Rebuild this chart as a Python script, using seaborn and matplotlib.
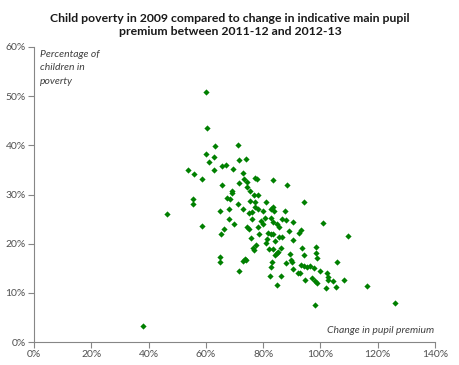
import matplotlib
matplotlib.use('Agg')
import matplotlib.pyplot as plt
import seaborn as sns
import pandas as pd
from matplotlib.ticker import PercentFormatter

# values (percent)
premium_change = [
    59.9, 60.5, 63.2, 71.3, 60.1, 62.7, 61.0, 71.4, 73.9, 53.8,
    55.8, 58.5, 62.7, 65.5, 67.0, 69.5, 72.9, 65.7, 71.5, 73.3,
    74.2, 77.2, 77.8, 74.5, 75.4, 69.3, 69.0, 55.5, 67.5, 68.6,
    76.8, 78.2, 83.3, 88.2, 46.3, 55.4, 58.5, 65.1, 68.1, 71.1,
    72.8, 75.5, 77.3, 75.2, 76.2, 76.2, 68.1, 69.8, 66.4, 65.4,
    74.2, 75.0, 78.3, 78.4, 75.8, 77.6, 76.4, 76.8, 65.1, 64.8,
    73.5, 73.0, 73.9, 71.7, 80.9, 77.1, 78.2, 94.2, 79.8, 82.8,
    83.5, 83.8, 87.6, 80.6, 82.9, 86.6, 87.9, 90.5, 100.9, 79.1,
    79.8, 83.5, 84.9, 85.6, 81.8, 82.7, 83.5, 89.0, 92.4, 93.2,
    109.7, 81.2, 85.4, 86.6, 84.0, 90.5, 80.9, 86.4, 83.5, 82.0,
    93.5, 98.6, 84.7, 85.2, 89.3, 98.6, 84.3, 94.4, 98.9, 89.6,
    90.1, 83.0, 87.9, 82.7, 93.2, 94.4, 95.2, 96.3, 97.6, 90.5,
    92.2, 93.0, 99.8, 102.3, 105.9, 82.3, 86.1, 85.0, 94.5, 96.9,
    98.0, 98.7, 102.5, 102.7, 104.4, 101.9, 105.4, 108.4, 116.1, 98.0,
    125.9, 38.1,
]
child_poverty = [
    50.9, 43.5, 39.8, 40.0, 38.3, 37.7, 36.6, 37.1, 37.2, 34.9,
    34.1, 33.2, 35.0, 35.7, 36.0, 35.2, 34.4, 32.0, 32.4, 33.1,
    32.6, 33.4, 33.1, 31.5, 30.8, 30.7, 30.4, 29.0, 29.2, 29.0,
    30.0, 30.0, 33.0, 32.0, 26.0, 28.0, 23.6, 26.7, 27.1, 28.0,
    27.1, 28.6, 28.5, 26.3, 26.5, 25.0, 25.1, 24.0, 22.9, 21.9,
    23.4, 22.9, 23.4, 21.9, 21.1, 19.8, 19.2, 18.7, 17.3, 16.2,
    16.9, 16.4, 16.6, 14.5, 28.5, 27.5, 27.1, 28.4, 26.6, 27.1,
    27.5, 26.7, 26.7, 25.2, 25.3, 25.1, 24.8, 24.5, 24.3, 24.6,
    24.1, 24.4, 24.0, 23.4, 22.2, 21.9, 21.9, 22.6, 22.2, 22.7,
    21.5, 21.0, 21.4, 21.3, 20.6, 20.7, 20.2, 19.1, 18.9, 18.9,
    19.2, 19.4, 18.1, 18.3, 18.0, 18.1, 17.6, 17.7, 17.1, 16.6,
    16.3, 16.2, 16.1, 15.2, 15.6, 15.4, 15.3, 15.5, 15.0, 14.8,
    14.1, 14.1, 14.4, 14.1, 16.2, 13.4, 13.5, 11.6, 12.6, 13.1,
    12.4, 12.0, 13.3, 12.6, 12.4, 11.0, 11.2, 12.7, 11.4, 7.5,
    7.9, 3.3,
]
x_ticks = [0, 20, 40, 60, 80, 100, 120, 140]
y_ticks = [0, 10, 20, 30, 40, 50, 60]

df = pd.DataFrame({'premium': premium_change, 'poverty': child_poverty})

sns.set_style('white')
plt.rcParams['font.family'] = ['Lato', 'DejaVu Sans']

fig = plt.figure(figsize=(4.6, 3.65), dpi=100)
ax = fig.add_axes([34 / 460, 1 - 342 / 365, 401 / 460, 295 / 365])

sns.scatterplot(data=df, x='premium', y='poverty', ax=ax, marker='D',
                color='#008000', s=10, linewidth=0, legend=False)

ax.set_xlim(0, 140)
ax.set_ylim(0, 60)
ax.set_xticks(x_ticks)
ax.set_yticks(y_ticks)
ax.xaxis.set_major_formatter(PercentFormatter(decimals=0))
ax.yaxis.set_major_formatter(PercentFormatter(decimals=0))
ax.tick_params(axis='both', labelsize=7.5, labelcolor='#505050', color='#868686',
               length=4, width=0.8, direction='out', pad=2)
ax.tick_params(left=True, bottom=True)
for side in ['top', 'right']:
    ax.spines[side].set_visible(False)
for side in ['left', 'bottom']:
    ax.spines[side].set_color('#868686')
    ax.spines[side].set_linewidth(0.8)
ax.set_xlabel('')
ax.set_ylabel('')

ax.text(0.015, 0.99, 'Percentage of\nchildren in\npoverty', transform=ax.transAxes,
        ha='left', va='top', fontsize=7.5, style='italic', color='#404040',
        linespacing=1.65)
ax.text(0.998, 0.025, 'Change in pupil premium', transform=ax.transAxes,
        ha='right', va='bottom', fontsize=7.5, style='italic', color='#404040')

fig.text(0.5, 0.965, 'Child poverty in 2009 compared to change in indicative main pupil\n'
         'premium between 2011-12 and 2012-13', ha='center', va='top',
         fontsize=8.8, fontweight='bold', color='#1a1a1a', linespacing=1.3)

fig.savefig('out.png', dpi=100)
